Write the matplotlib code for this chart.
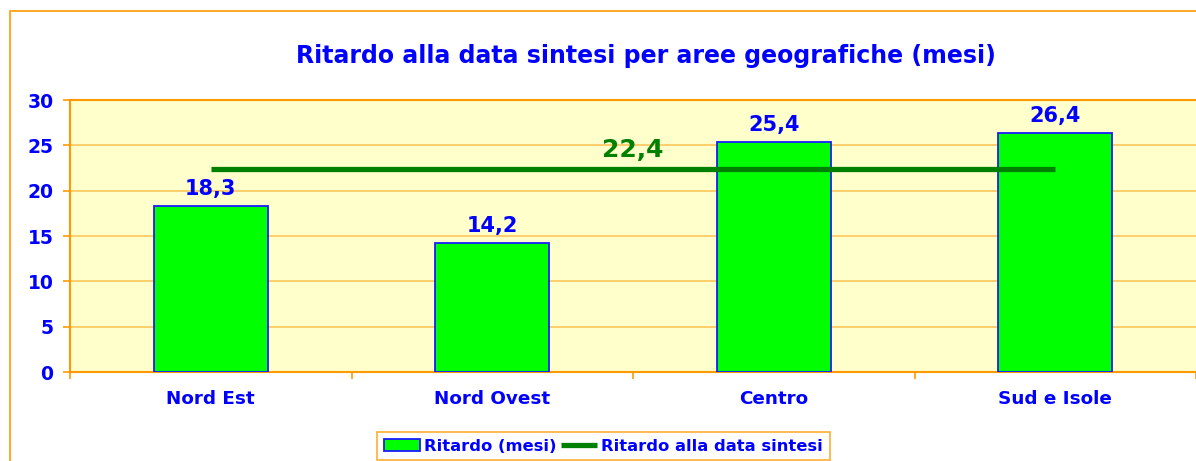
import matplotlib.pyplot as plt
import matplotlib.patches as patches
import numpy as np

# data
categories = ['Nord Est', 'Nord Ovest', 'Centro', 'Sud e Isole']
ritardo = [18.3, 14.2, 25.4, 26.4]
media = 22.4
labels = ['18,3', '14,2', '25,4', '26,4']
media_label = '22,4'

BLUE = '#0000FF'
ORANGE = '#FF9900'
GRID = '#FFC55A'
GREEN = '#008000'

plt.rcParams['font.family'] = ['DejaVu Sans']
plt.rcParams['font.weight'] = 'bold'

fig = plt.figure(figsize=(11.96, 4.61), dpi=100)

# outer chart border, cut off at right and bottom
fig.patches.append(patches.Rectangle((10 / 1196, -0.1), 1.2, 1 - 11 / 461 + 0.1,
                                     transform=fig.transFigure, fill=False,
                                     edgecolor=ORANGE, linewidth=1.2))

ax = fig.add_axes([70 / 1196, 1 - 372 / 461, 1126 / 1196, 272 / 461])
ax.set_facecolor('#FFFFCC')

x = np.arange(len(categories))
bars = ax.bar(x, ritardo, width=0.405, color='#00FF00', edgecolor='#1a1aff',
              linewidth=1.3, zorder=3, label='Ritardo (mesi)')
line, = ax.plot([x[0], x[-1]], [media, media], color=GREEN, linewidth=3.8, zorder=4,
                solid_capstyle='butt', label='Ritardo alla data sintesi')

for xi, v, lab in zip(x, ritardo, labels):
    ax.annotate(lab, (xi, v), xytext=(0, 5), textcoords='offset points',
                ha='center', va='bottom', color=BLUE, fontsize=15, fontweight='bold')
ax.annotate(media_label, ((x[0] + x[-1]) / 2, media), xytext=(0, 5),
            textcoords='offset points', ha='center', va='bottom', color=GREEN,
            fontsize=18, fontweight='bold', zorder=5)

ax.set_xlim(-0.5, len(categories) - 0.5)
ax.set_ylim(0, 30)
ax.set_yticks(range(0, 31, 5))
ax.yaxis.grid(True, color=GRID, linewidth=1.2, zorder=0)
ax.set_axisbelow(True)

ax.set_xticks(x)
ax.set_xticklabels(categories, color=BLUE, fontsize=13.2, fontweight='bold')
ax.set_xticks(np.arange(-0.5, len(categories), 1), minor=True)
ax.tick_params(axis='x', which='major', length=0, pad=13)
ax.tick_params(axis='x', which='minor', length=5, color=ORANGE, width=1.2)
ax.tick_params(axis='y', length=5, color=ORANGE, width=1.2, labelcolor=BLUE,
               labelsize=13.5, pad=7)
for t in ax.get_yticklabels():
    t.set_fontweight('bold')

for side in ['left', 'top', 'bottom']:
    ax.spines[side].set_color(ORANGE)
    ax.spines[side].set_linewidth(1.5)
ax.spines['right'].set_visible(False)

fig.text(646 / 1196, 1 - 56 / 461, 'Ritardo alla data sintesi per aree geografiche (mesi)',
         ha='center', va='center', color=BLUE, fontsize=17, fontweight='bold')

leg = ax.legend([bars, line], ['Ritardo (mesi)', 'Ritardo alla data sintesi'],
                loc='upper left', bbox_to_anchor=(377 / 1196, 1 - 432 / 461),
                bbox_transform=fig.transFigure, ncol=2, frameon=True, fancybox=False,
                fontsize=11.8, handlelength=2.2, handletextpad=0.25, columnspacing=0.3,
                borderpad=0.4, borderaxespad=0)
leg.get_frame().set_edgecolor(ORANGE)
leg.get_frame().set_linewidth(1.2)
for t in leg.get_texts():
    t.set_color(BLUE)
    t.set_fontweight('bold')

fig.savefig('out.png', dpi=100, facecolor='white')
